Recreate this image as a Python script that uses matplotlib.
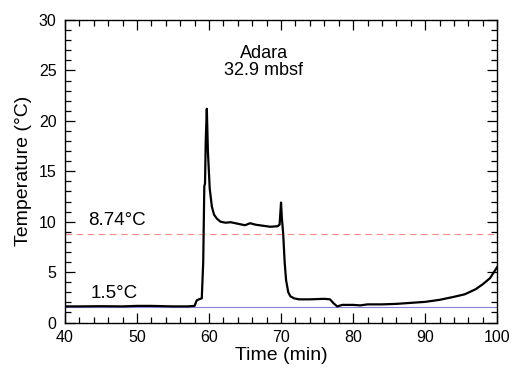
import matplotlib
matplotlib.use("Agg")
import matplotlib.pyplot as plt
from matplotlib.ticker import MultipleLocator

plt.rcParams['font.family'] = ['Liberation Sans', 'DejaVu Sans']

time_min = [40, 42, 45, 48, 50, 52, 55, 57, 58.0, 58.3, 58.6, 59.0, 59.2, 59.35, 59.45,
            59.55, 59.7, 59.85, 60.1, 60.4, 60.7, 61.1, 61.6, 62.3, 63.0, 64.0, 65.0,
            65.7, 66.5, 67.5, 68.5, 69.5, 69.8, 70.0, 70.1, 70.3, 70.5, 70.7, 71.0,
            71.3, 71.8, 72.5, 74, 76, 76.8, 77.3, 77.8, 78.5, 80, 81, 82, 84, 86, 88,
            90, 92, 94, 95.5, 97, 98, 99, 100]
temp_c = [1.6, 1.6, 1.62, 1.6, 1.65, 1.65, 1.6, 1.6, 1.65, 2.2, 2.3, 2.4, 6.0, 13.5, 13.8,
          18.0, 21.2, 17.0, 13.3, 11.5, 10.7, 10.3, 10.0, 9.9, 9.95, 9.8, 9.65,
          9.85, 9.7, 9.6, 9.5, 9.55, 9.7, 11.9, 10.5, 8.8, 6.0, 4.2, 3.0,
          2.6, 2.4, 2.3, 2.3, 2.35, 2.3, 1.9, 1.6, 1.75, 1.75, 1.7, 1.8, 1.8, 1.85, 1.95,
          2.05, 2.25, 2.55, 2.8, 3.3, 3.8, 4.4, 5.5]

ref_low = 1.5
ref_high = 8.74
ref_low_label = "1.5°C"
ref_high_label = "8.74°C"
title_text = "Adara\n32.9 mbsf"

fig = plt.figure(figsize=(5.19, 3.72), dpi=100)
ax = fig.add_axes([0.125, 0.133, 0.833, 0.813])

ax.axhline(ref_low, color='#8484d8', lw=0.8)
ax.axhline(ref_high, color='#ff8a8a', lw=0.8, dashes=(6, 4))
ax.plot(time_min, temp_c, color='black', lw=1.6)

ax.text(43.2, 9.3, ref_high_label, fontsize=13.5, ha='left', va='bottom')
ax.text(43.6, 2.0, ref_low_label, fontsize=13.5, ha='left', va='bottom')
ax.text(67.6, 27.5, title_text, fontsize=13, ha='center', va='top', linespacing=0.95)

ax.set_xlim(40, 100)
ax.set_ylim(0, 30)
ax.xaxis.set_major_locator(MultipleLocator(10))
ax.xaxis.set_minor_locator(MultipleLocator(2))
ax.yaxis.set_major_locator(MultipleLocator(5))
ax.yaxis.set_minor_locator(MultipleLocator(1))
ax.tick_params(which='both', direction='in', top=True, right=True, labelsize=11.5, width=0.9)
ax.tick_params(which='major', length=7)
ax.tick_params(which='minor', length=4)
ax.tick_params(axis='x', which='major', pad=5.5)
ax.tick_params(axis='y', which='major', pad=6)
for s in ax.spines.values():
    s.set_linewidth(1.0)

ax.set_xlabel("Time (min)", fontsize=14, labelpad=1)
ax.set_ylabel("Temperature (°C)", fontsize=14, labelpad=5)

fig.savefig("out.png", dpi=100)
